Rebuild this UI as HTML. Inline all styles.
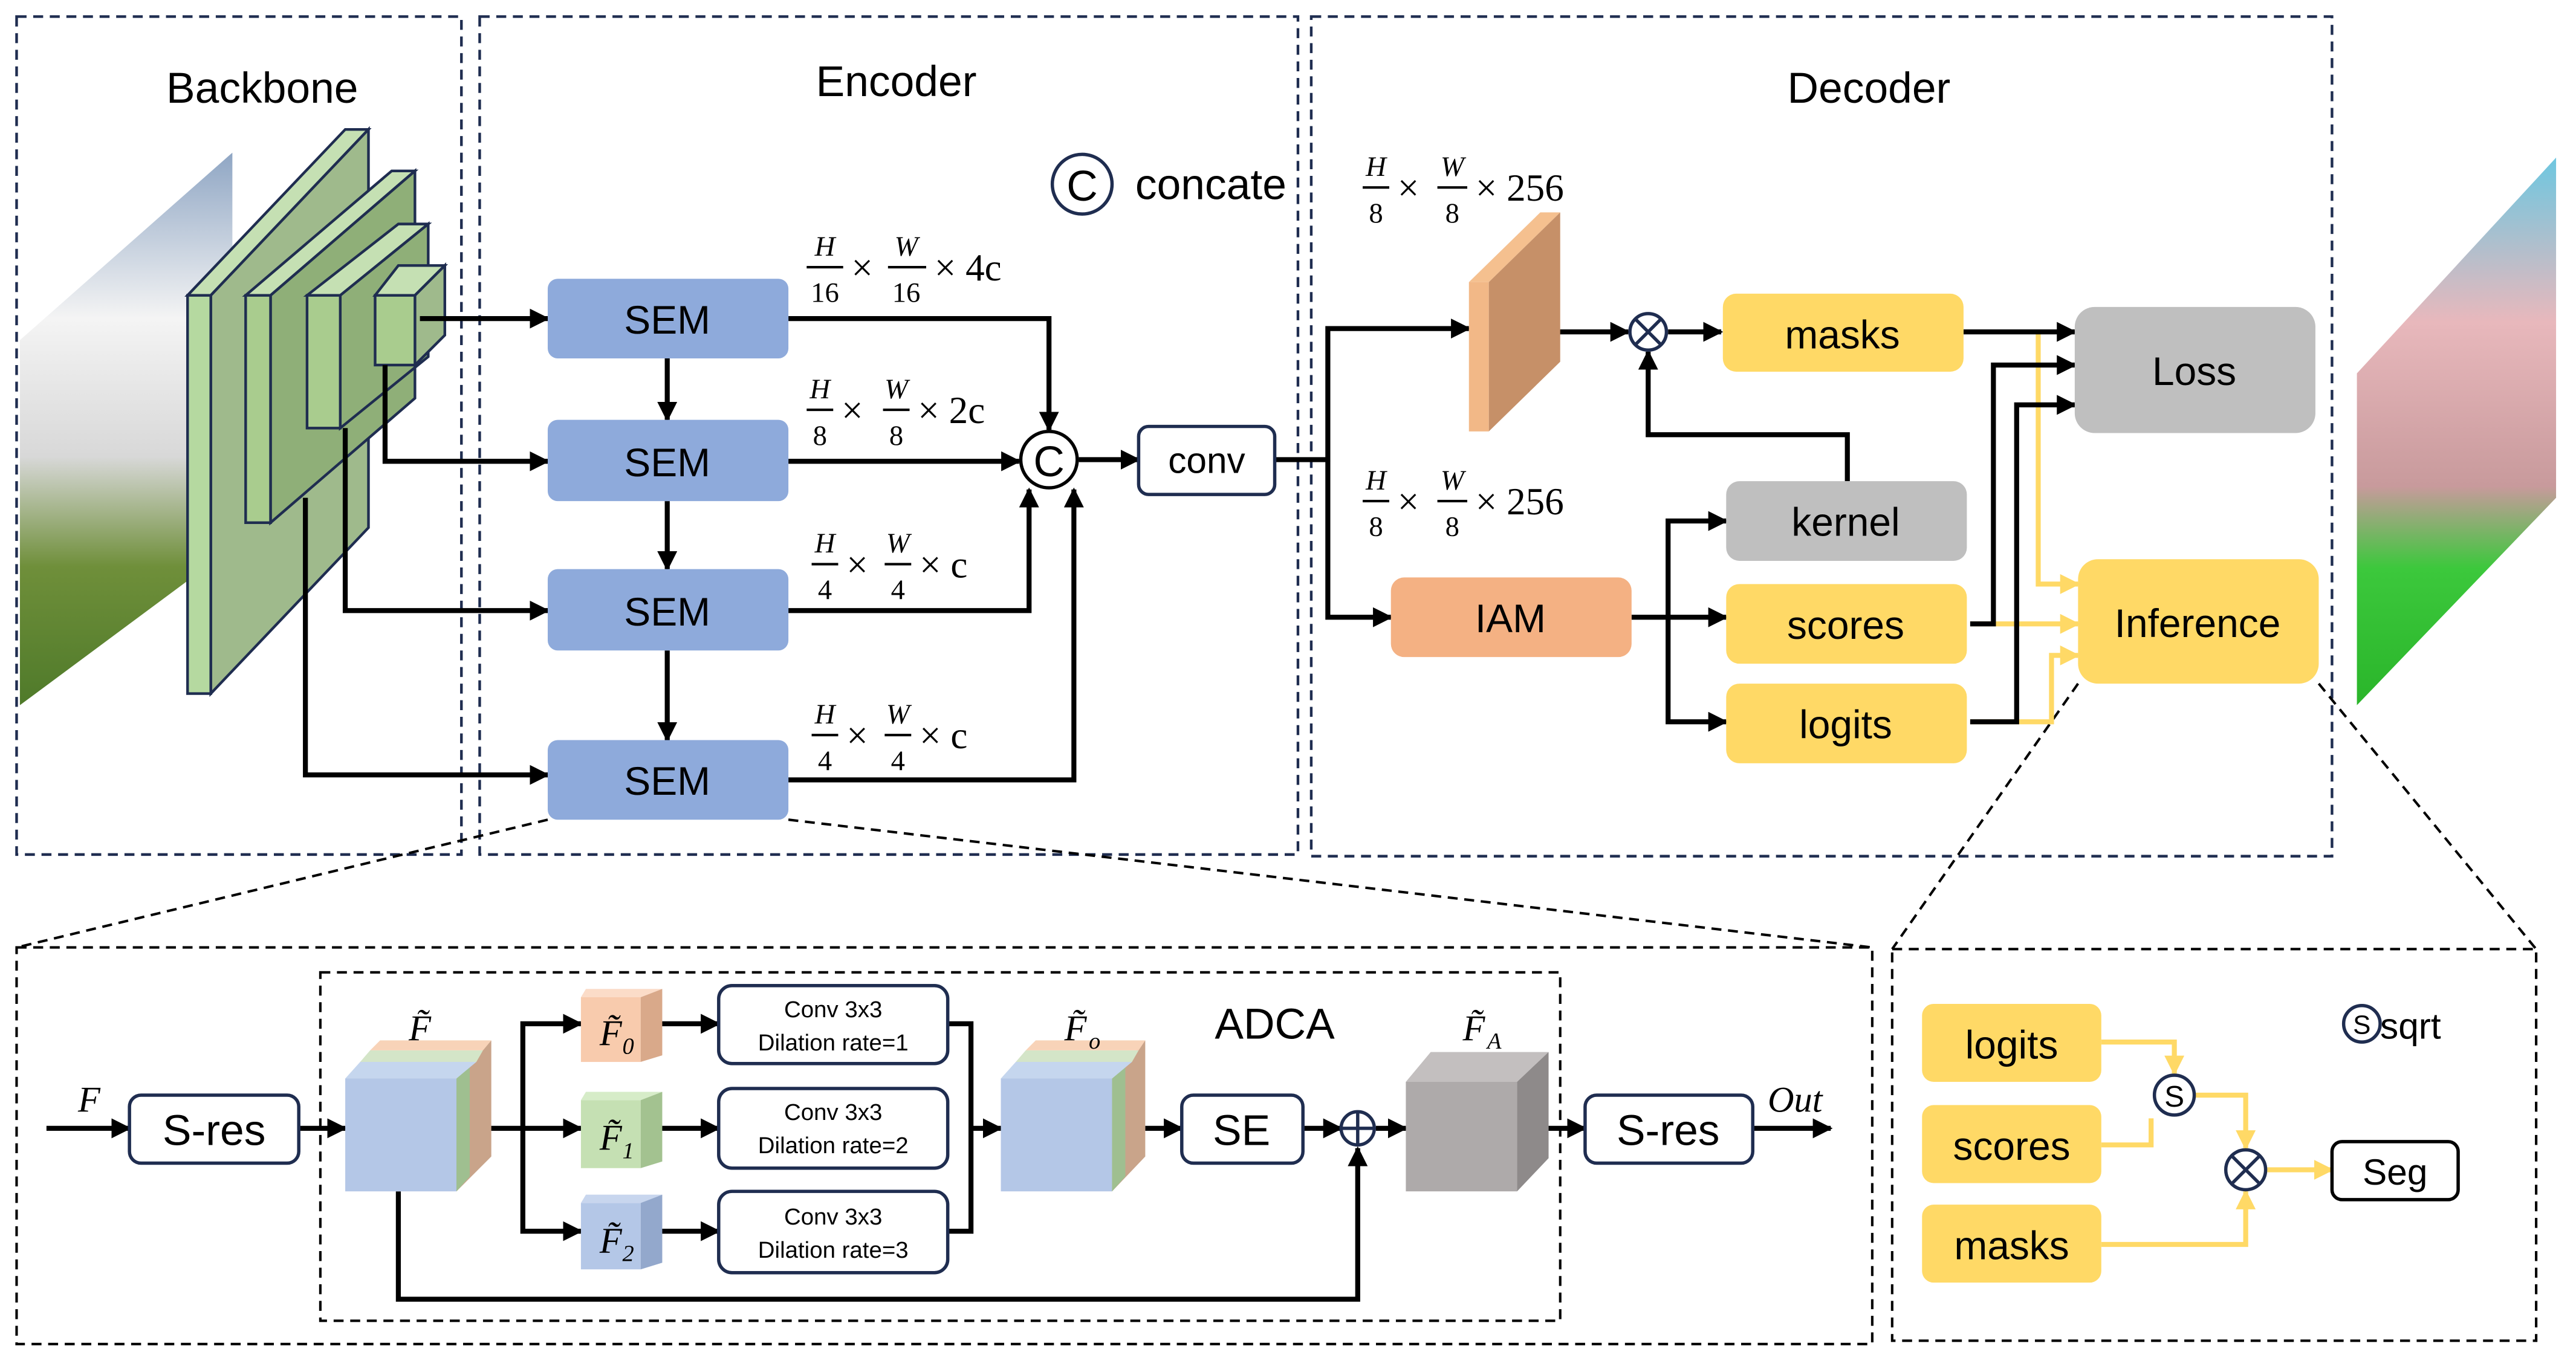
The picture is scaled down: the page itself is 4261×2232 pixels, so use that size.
<!DOCTYPE html>
<html><head><meta charset="utf-8"><style>
html,body{margin:0;padding:0;background:#fff;}
svg{display:block;}
text{font-family:"Liberation Sans",sans-serif;}
.s text, text.s{font-family:"Liberation Serif",serif;}
</style></head><body>
<svg width="4261" height="2232" viewBox="0 0 1552 813" preserveAspectRatio="none" xmlns="http://www.w3.org/2000/svg">
<defs>
<marker id="a" viewBox="0 0 10 10" refX="9" refY="5" markerWidth="4" markerHeight="4" orient="auto"><path d="M0,0 L10,5 L0,10 z" fill="#000"/></marker>
<marker id="y" viewBox="0 0 10 10" refX="9" refY="5" markerWidth="4" markerHeight="4" orient="auto"><path d="M0,0 L10,5 L0,10 z" fill="#ffd966"/></marker>
<linearGradient id="img1" x1="0" y1="0" x2="0" y2="1"><stop offset="0" stop-color="#8fa6c4"/><stop offset="0.3" stop-color="#f4f4f4"/><stop offset="0.55" stop-color="#d8d8d8"/><stop offset="0.75" stop-color="#6f8f3a"/><stop offset="1" stop-color="#4f7a2a"/></linearGradient>
<linearGradient id="img2" x1="0" y1="0" x2="0" y2="1"><stop offset="0" stop-color="#6ec7e0"/><stop offset="0.3" stop-color="#e8b8bc"/><stop offset="0.6" stop-color="#c89a9c"/><stop offset="0.75" stop-color="#3cc83c"/><stop offset="1" stop-color="#2ab52a"/></linearGradient>
</defs>
<g fill="none" stroke="#1f2d50" stroke-width="1.6" stroke-dasharray="6,4">
<rect x="10" y="10" width="268" height="505"/>
<rect x="289" y="10" width="493" height="505"/>
<rect x="790" y="10" width="615" height="506"/>
</g>
<g fill="none" stroke="#000" stroke-width="1.5" stroke-dasharray="6,4">
<rect x="10" y="571" width="1118" height="239"/>
<rect x="193" y="586" width="747" height="210"/>
<rect x="1140" y="572" width="388" height="236"/>
<line x1="330" y1="494" x2="10" y2="571"/>
<line x1="475" y1="494" x2="1128" y2="571"/>
<line x1="1252" y1="412" x2="1140" y2="572"/>
<line x1="1397" y1="412" x2="1528" y2="572"/>
</g>
<text x="158" y="62" font-size="26" text-anchor="middle">Backbone</text>
<text x="540" y="58" font-size="26" text-anchor="middle">Encoder</text>
<text x="1126" y="62" font-size="26" text-anchor="middle">Decoder</text>
<polygon points="12,205 140,92 140,330 12,425" fill="url(#img1)"/>
<polygon points="1420,225 1540,95 1540,300 1420,425" fill="url(#img2)"/>
<g stroke="#1f2d50" stroke-width="1.6">
<polygon points="113,178 208,78 222,78 127,178" fill="#c5e0b3"/>
<polygon points="127,178 222,78 222,318 127,418" fill="#9fba8c"/>
<rect x="113" y="178" width="14" height="240" fill="#b5d9a0"/>
<polygon points="148,178 236,103 250,103 163,178" fill="#c5e0b3"/>
<polygon points="163,178 250,103 250,240 163,315" fill="#8faf78"/>
<rect x="148" y="178" width="15" height="137" fill="#a9cc8e"/>
<polygon points="185,178 240,135 258,135 205,178" fill="#c5e0b3"/>
<polygon points="205,178 258,135 258,215 205,258" fill="#8faf78"/>
<rect x="185" y="178" width="20" height="80" fill="#a9cc8e"/>
<polygon points="226,178 240,160 268,160 250,178" fill="#c5e0b3"/>
<polygon points="250,178 268,160 268,202 250,220" fill="#9fba8c"/>
<rect x="226" y="178" width="24" height="42" fill="#a9cc8e"/>
</g>
<g stroke="#000" stroke-width="3" fill="none" marker-end="url(#a)">
<path d="M253,192 H330"/>
<path d="M232,220 V278 H330"/>
<path d="M208,258 V368 H330"/>
<path d="M184,300 V467 H330"/>
<path d="M402,216 V253"/>
<path d="M402,302 V343"/>
<path d="M402,392 V446"/>
<path d="M475,192 H632 V259"/>
<path d="M475,278 H614"/>
<path d="M475,368 H620 V295"/>
<path d="M475,470 H647 V295"/>
<path d="M650,277 H686"/>
<path d="M768,277 H800 V198 H885"/>
<path d="M800,277 V372 H838"/>
<path d="M920,200 H981"/>
<path d="M1005,200 H1037"/>
<path d="M1113,290 V262 H993 V212"/>
<path d="M983,372 H1005 V314 H1040"/>
<path d="M1005,372 H1040"/>
<path d="M1005,372 V435 H1040"/>
</g>
<g stroke="#ffd966" stroke-width="3" fill="none" marker-end="url(#y)">
<path d="M1228,200 V352 H1252"/>
<path d="M1187,376 H1252"/>
<path d="M1187,435 H1236 V395 H1252"/>
</g>
<g stroke="#000" stroke-width="3" fill="none" marker-end="url(#a)">
<path d="M1183,200 H1250"/>
<path d="M1187,376 H1201 V220 H1250"/>
<path d="M1187,435 H1215 V244 H1250"/>
</g>
<g fill="#8eaadb">
<rect x="330" y="168" width="145" height="48" rx="6"/>
<rect x="330" y="253" width="145" height="49" rx="6"/>
<rect x="330" y="343" width="145" height="49" rx="6"/>
<rect x="330" y="446" width="145" height="48" rx="6"/>
</g>
<g font-size="24" text-anchor="middle">
<text x="402" y="201">SEM</text><text x="402" y="287">SEM</text><text x="402" y="377">SEM</text><text x="402" y="479">SEM</text>
</g>
<circle cx="632" cy="277" r="17" fill="#fff" stroke="#000" stroke-width="2"/>
<text x="632" y="287" font-size="26" text-anchor="middle">C</text>
<circle cx="652" cy="111" r="18" fill="#fff" stroke="#1f2d50" stroke-width="2"/>
<text x="652" y="121" font-size="26" text-anchor="middle">C</text>
<text x="684" y="120" font-size="26">concate</text>
<rect x="686" y="257" width="82" height="41" rx="6" fill="#fff" stroke="#1f2d50" stroke-width="2"/>
<text x="727" y="285" font-size="22" text-anchor="middle">conv</text>
<g class="s">
<g font-size="17" text-anchor="middle" font-style="italic">
<text x="497" y="154">H</text><text x="546" y="154">W</text>
<text x="494" y="240">H</text><text x="540" y="240">W</text>
<text x="497" y="333">H</text><text x="541" y="333">W</text>
<text x="497" y="436">H</text><text x="541" y="436">W</text>
<text x="829" y="106">H</text><text x="875" y="106">W</text>
<text x="829" y="295">H</text><text x="875" y="295">W</text>
</g>
<g font-size="17" text-anchor="middle">
<text x="497" y="182">16</text><text x="546" y="182">16</text>
<text x="494" y="268">8</text><text x="540" y="268">8</text>
<text x="497" y="361">4</text><text x="541" y="361">4</text>
<text x="497" y="464">4</text><text x="541" y="464">4</text>
<text x="829" y="134">8</text><text x="875" y="134">8</text>
<text x="829" y="323">8</text><text x="875" y="323">8</text>
</g>
<g stroke="#000" stroke-width="1.5">
<line x1="486" y1="161" x2="508" y2="161"/><line x1="535" y1="161" x2="558" y2="161"/>
<line x1="486" y1="247" x2="502" y2="247"/><line x1="532" y1="247" x2="548" y2="247"/>
<line x1="489" y1="340" x2="505" y2="340"/><line x1="533" y1="340" x2="549" y2="340"/>
<line x1="489" y1="443" x2="505" y2="443"/><line x1="533" y1="443" x2="549" y2="443"/>
<line x1="821" y1="113" x2="837" y2="113"/><line x1="866" y1="113" x2="884" y2="113"/>
<line x1="821" y1="302" x2="837" y2="302"/><line x1="866" y1="302" x2="884" y2="302"/>
</g>
<g font-size="23">
<text x="513" y="169">×</text><text x="563" y="169">× 4c</text>
<text x="507" y="255">×</text><text x="553" y="255">× 2c</text>
<text x="510" y="348">×</text><text x="554" y="348">× c</text>
<text x="510" y="451">×</text><text x="554" y="451">× c</text>
<text x="842" y="121">×</text><text x="889" y="121">× 256</text>
<text x="842" y="310">×</text><text x="889" y="310">× 256</text>
</g>
</g>
<polygon points="885,170 897,170 940,128 928,128" fill="#f5c08f"/>
<rect x="885" y="170" width="12" height="90" fill="#f2b887"/>
<polygon points="897,170 940,128 940,218 897,260" fill="#c69068"/>
<circle cx="993" cy="200" r="11" fill="#fff" stroke="#1f2d50" stroke-width="2"/>
<path d="M985,192 L1001,208 M1001,192 L985,208" stroke="#1f2d50" stroke-width="2"/>
<rect x="1038" y="177" width="145" height="47" rx="8" fill="#ffd966"/>
<rect x="1040" y="290" width="145" height="48" rx="8" fill="#bfbfbf"/>
<rect x="838" y="348" width="145" height="48" rx="8" fill="#f4b183"/>
<rect x="1040" y="352" width="145" height="48" rx="8" fill="#ffd966"/>
<rect x="1040" y="412" width="145" height="48" rx="8" fill="#ffd966"/>
<rect x="1250" y="185" width="145" height="76" rx="12" fill="#bfbfbf"/>
<rect x="1252" y="337" width="145" height="75" rx="12" fill="#ffd966"/>
<g font-size="24" text-anchor="middle">
<text x="1110" y="210">masks</text><text x="1112" y="323">kernel</text><text x="910" y="381">IAM</text>
<text x="1112" y="385">scores</text><text x="1112" y="445">logits</text>
<text x="1322" y="232">Loss</text><text x="1324" y="384">Inference</text>
</g>
<!-- bottom -->
<g stroke="#000" stroke-width="3" fill="none" marker-end="url(#a)">
<path d="M28,680 H78"/>
<path d="M180,680 H208"/>
<path d="M294,680 H350"/>
<path d="M315,680 V617 H350"/>
<path d="M315,680 V742 H350"/>
<path d="M398,617 H433"/><path d="M398,680 H433"/><path d="M398,742 H433"/>
<path d="M571,617 H585 V742 H571" marker-end="none"/>
<path d="M585,680 H603"/>
<path d="M690,680 H712"/>
<path d="M785,680 H808"/>
<path d="M829,680 H847"/>
<path d="M933,680 H955"/>
<path d="M1056,680 H1103"/>
<path d="M240,718 V783 H818 V692"/>
</g>
<g class="s" font-style="italic">
<text x="47" y="670" font-size="22">F</text>
<text x="1065" y="670" font-size="22">Out</text>
</g>
<g fill="#fff" stroke="#1f2d50" stroke-width="2">
<rect x="78" y="660" width="102" height="41" rx="7"/>
<rect x="712" y="660" width="73" height="41" rx="7"/>
<rect x="955" y="660" width="101" height="41" rx="7"/>
<rect x="433" y="594" width="138" height="47" rx="8"/>
<rect x="433" y="656" width="138" height="48" rx="8"/>
<rect x="433" y="718" width="138" height="49" rx="8"/>
</g>
<g font-size="26" text-anchor="middle"><text x="129" y="690">S-res</text><text x="748" y="690">SE</text><text x="1005" y="690">S-res</text></g>
<g font-size="14" text-anchor="middle">
<text x="502" y="613">Conv 3x3</text><text x="502" y="633">Dilation rate=1</text>
<text x="502" y="675">Conv 3x3</text><text x="502" y="695">Dilation rate=2</text>
<text x="502" y="738">Conv 3x3</text><text x="502" y="758">Dilation rate=3</text>
</g>
<text x="768" y="626" font-size="26" text-anchor="middle">ADCA</text>
<!-- cubes -->
<g>
<rect x="208" y="650" width="67" height="68" fill="#b4c7e7"/>
<polygon points="275,650 296,627 296,697 275,718" fill="#c9a48a"/>
<polygon points="275,650 283,641 283,709 275,718" fill="#9fbf90"/>
<polygon points="208,650 217,640 287,640 275,650" fill="#c5d6ee"/>
<polygon points="217,640 223,633 291,633 287,640" fill="#d4e5c8"/>
<polygon points="223,633 229,627 296,627 291,633" fill="#f8d3b8"/>
</g>
<g>
<rect x="603" y="650" width="67" height="68" fill="#b4c7e7"/>
<polygon points="670,650 690,627 690,697 670,718" fill="#c9a48a"/>
<polygon points="670,650 678,641 678,709 670,718" fill="#9fbf90"/>
<polygon points="603,650 612,640 682,640 670,650" fill="#c5d6ee"/>
<polygon points="612,640 618,633 686,633 682,640" fill="#d4e5c8"/>
<polygon points="618,633 624,627 690,627 686,633" fill="#f8d3b8"/>
</g>
<g>
<rect x="847" y="652" width="67" height="66" fill="#aeaaaa"/>
<polygon points="847,652 862,634 933,634 914,652" fill="#c3bfbf"/>
<polygon points="914,652 933,634 933,698 914,718" fill="#8e8a8a"/>
</g>
<rect x="350" y="601" width="36" height="39" fill="#f8cbad"/><polygon points="350,601 353,596 399,596 386,601" fill="#fbdcc8"/><polygon points="386,601 399,596 399,636 386,640" fill="#d9a98a"/>
<rect x="350" y="663" width="36" height="41" fill="#c5e0b3"/><polygon points="350,663 353,658 399,658 386,663" fill="#d6ecc8"/><polygon points="386,663 399,658 399,700 386,704" fill="#a3c290"/>
<rect x="350" y="725" width="36" height="40" fill="#b4c7e7"/><polygon points="350,725 353,720 399,720 386,725" fill="#c8d6ee"/><polygon points="386,725 399,720 399,761 386,765" fill="#93a8cc"/>
<g class="s" font-style="italic" font-size="22" text-anchor="middle">
<text x="253" y="627">F̃</text><text x="648" y="627">F̃</text><text x="888" y="627">F̃</text>
<text x="368" y="630">F̃</text><text x="368" y="693">F̃</text><text x="368" y="755">F̃</text>
</g>
<g class="s" font-style="italic" font-size="14">
<text x="656" y="632">o</text><text x="896" y="632">A</text>
<text x="375" y="635">0</text><text x="375" y="698">1</text><text x="375" y="760">2</text>
</g>
<circle cx="818" cy="680" r="10" fill="#fff" stroke="#1f2d50" stroke-width="2"/>
<path d="M808,680 H828 M818,670 V690" stroke="#1f2d50" stroke-width="2"/>
<!-- right box -->
<g stroke="#ffd966" stroke-width="3" fill="none" marker-end="url(#y)">
<path d="M1266,628 H1310 V647"/>
<path d="M1266,690 H1296 V674" marker-end="none"/>
<path d="M1322,660 H1353 V692"/>
<path d="M1266,750 H1353 V718"/>
<path d="M1366,705 H1405"/>
</g>
<rect x="1158" y="605" width="108" height="47" rx="7" fill="#ffd966"/>
<rect x="1158" y="666" width="108" height="47" rx="7" fill="#ffd966"/>
<rect x="1158" y="726" width="108" height="47" rx="7" fill="#ffd966"/>
<g font-size="24" text-anchor="middle"><text x="1212" y="638">logits</text><text x="1212" y="699">scores</text><text x="1212" y="759">masks</text></g>
<circle cx="1310" cy="660" r="12" fill="#fff" stroke="#1f2d50" stroke-width="2"/>
<text x="1310" y="667" font-size="18" text-anchor="middle">S</text>
<circle cx="1353" cy="705" r="12" fill="#fff" stroke="#1f2d50" stroke-width="2"/>
<path d="M1345,697 L1361,713 M1361,697 L1345,713" stroke="#1f2d50" stroke-width="2"/>
<rect x="1405" y="688" width="76" height="35" rx="6" fill="#fff" stroke="#000" stroke-width="2"/>
<text x="1443" y="714" font-size="22" text-anchor="middle">Seg</text>
<circle cx="1423" cy="617" r="11" fill="#fff" stroke="#1f2d50" stroke-width="2"/>
<text x="1423" y="623" font-size="16" text-anchor="middle">S</text>
<text x="1434" y="626" font-size="22">sqrt</text>
</svg>
</body></html>
